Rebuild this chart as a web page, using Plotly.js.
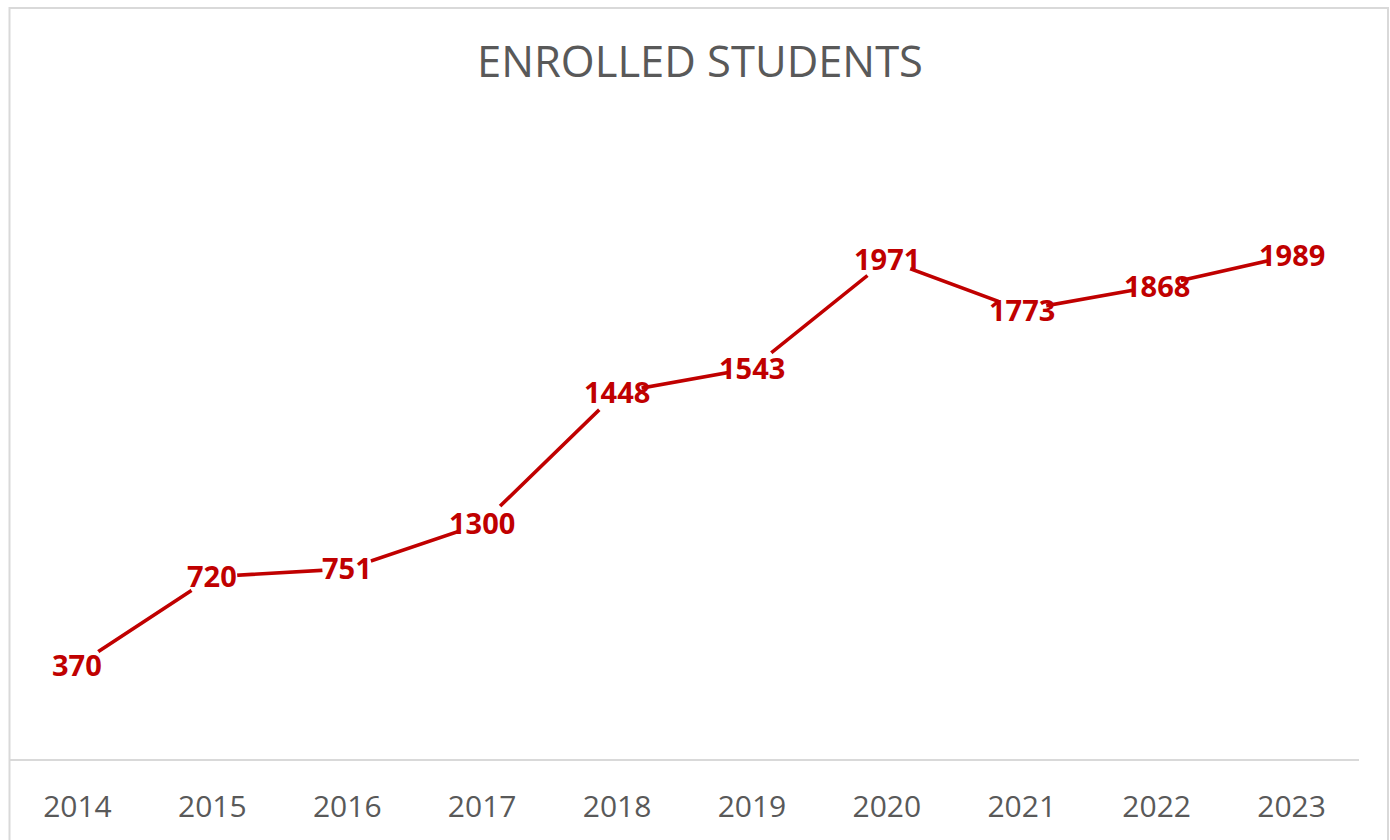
<!DOCTYPE html>
<html>
<head>
<meta charset="utf-8">
<script src="https://cdn.plot.ly/plotly-3.0.1.min.js"></script>
<style>html,body{margin:0;padding:0;background:#fff;}#chart{width:1390px;height:840px;}</style>
</head>
<body>
<div id="chart"></div>
<script>
const years = ["2014","2015","2016","2017","2018","2019","2020","2021","2022","2023"];
const enrolled = [370, 720, 751, 930, 1448, 1543, 1971, 1773, 1868, 1989];
const valueLabels = ["370","720","751","1300","1448","1543","1971","1773","1868","1989"];

const red = "#C00000";
const traces = [
  {x: years, y: enrolled, type: "scatter", mode: "lines",
   line: {color: red, width: 3.6}, hoverinfo: "skip", showlegend: false},
  {x: years, y: enrolled, type: "scatter", mode: "markers",
   marker: {color: "#ffffff", size: 50, line: {width: 0}}, hoverinfo: "skip", showlegend: false}
];

const annotations = valueLabels.map((lbl, i) => ({
  x: i, y: enrolled[i], xref: "x", yref: "y", text: lbl,
  showarrow: false, xanchor: "center", yanchor: "middle", yshift: 1,
  font: {family: "Open Sans", size: 29, color: red, weight: "bold"}
}));

const layout = {
  width: 1390, height: 840,
  margin: {l: 10, r: 31, t: 126, b: 81},
  paper_bgcolor: "#ffffff", plot_bgcolor: "#ffffff",
  title: {text: "ENROLLED STUDENTS", x: 0.5036, xref: "container", y: 0.927, yref: "container",
          xanchor: "center", yanchor: "middle",
          font: {family: "Open Sans", size: 43.5, color: "#595959"}},
  xaxis: {type: "category", range: [-0.5, 9.5], showgrid: false, zeroline: false,
          showline: true, linecolor: "#d9d9d9", linewidth: 1.5, ticks: "",
          tickfont: {family: "Open Sans", size: 30, color: "#595959"}, ticklabelstandoff: 20, fixedrange: true},
  yaxis: {visible: false, range: [0, 2500], fixedrange: true},
  annotations: annotations,
  shapes: [
    {type: "rect", xref: "paper", yref: "paper",
     x0: (9.5 - 10) / 1349, x1: (1388 - 10) / 1349,
     y0: (759 - 860) / 633, y1: (759 - 8) / 633,
     line: {color: "#d9d9d9", width: 2}, fillcolor: "rgba(0,0,0,0)", layer: "below"}
  ],
  showlegend: false
};

Plotly.newPlot("chart", traces, layout, {staticPlot: true, displayModeBar: false});
</script>
</body>
</html>
